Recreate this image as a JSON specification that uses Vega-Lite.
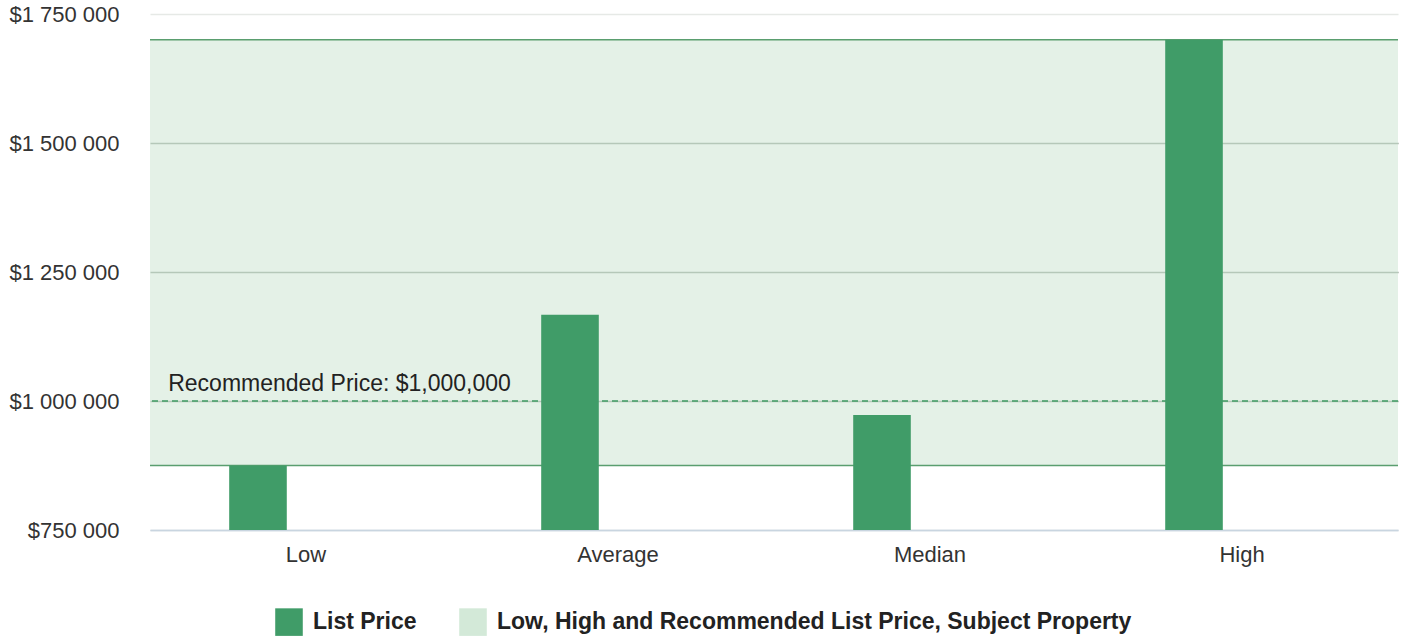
{
  "$schema": "https://vega.github.io/schema/vega-lite/v6.json",
  "width": 1248,
  "height": 516,
  "autosize": "none",
  "padding": {"left": 150, "top": 14, "right": 7, "bottom": 107},
  "background": "white",
  "config": {
    "locale": {"number": {"decimal": ".", "thousands": " ", "grouping": [3], "currency": ["$", ""]}},
    "font": "Liberation Sans",
    "view": {"stroke": null}
  },
  "datasets": {
    "prices": [
      {"category": "Low", "series": "List Price", "price": 875000},
      {"category": "Average", "series": "List Price", "price": 1167000},
      {"category": "Median", "series": "List Price", "price": 973000},
      {"category": "High", "series": "List Price", "price": 1700000}
    ],
    "band": [
      {"series": "Low, High and Recommended List Price, Subject Property", "low": 875000, "high": 1700000}
    ],
    "recommended": [
      {"price": 1000000, "label": "Recommended Price: $1,000,000", "category": "Low"}
    ]
  },
  "encoding": {
    "y": {
      "type": "quantitative",
      "scale": {"domain": [750000, 1750000], "zero": false, "nice": false},
      "axis": {
        "title": null,
        "format": "$,.0f",
        "values": [750000, 1000000, 1250000, 1500000, 1750000],
        "labelOverlap": false,
        "domain": false,
        "ticks": false,
        "labelFontSize": 22,
        "labelColor": "#333333",
        "labelPadding": 31,
        "grid": true,
        "gridColor": {"condition": [
          {"test": "datum.value === 750000", "value": "#c9d5e0"},
          {"test": "datum.value === 1750000", "value": "#e6e9e6"}
        ], "value": "#849486"},
        "gridWidth": 1.3
      }
    }
  },
  "layer": [
    {
      "data": {"name": "band"},
      "mark": {"type": "rect", "opacity": 0.62},
      "encoding": {
        "y": {"field": "low", "type": "quantitative"},
        "y2": {"field": "high"},
        "color": {
          "field": "series",
          "type": "nominal",
          "scale": {
            "domain": ["List Price", "Low, High and Recommended List Price, Subject Property"],
            "range": ["#409c68", "#d3e9d8"]
          },
          "legend": {
            "title": null,
            "orient": "none",
            "legendX": 125,
            "legendY": 594,
            "direction": "horizontal",
            "symbolType": "square",
            "symbolSize": 760,
            "symbolStrokeWidth": 0,
            "symbolOpacity": 1,
            "labelFontSize": 23,
            "labelFontWeight": "bold",
            "labelColor": "#222222",
            "labelOffset": 10,
            "labelLimit": 900,
            "columnPadding": 42
          }
        }
      }
    },
    {
      "data": {"name": "band"},
      "mark": {"type": "rule", "color": "#5a9e6f", "strokeWidth": 1.6},
      "encoding": {"y": {"field": "low", "type": "quantitative"}}
    },
    {
      "data": {"name": "band"},
      "mark": {"type": "rule", "color": "#5a9e6f", "strokeWidth": 1.6},
      "encoding": {"y": {"field": "high", "type": "quantitative"}}
    },
    {
      "data": {"name": "recommended"},
      "mark": {"type": "rule", "color": "#3f9b63", "strokeWidth": 1.6, "strokeDash": [6, 4]},
      "encoding": {"y": {"field": "price", "type": "quantitative"}}
    },
    {
      "data": {"name": "prices"},
      "mark": {"type": "bar"},
      "encoding": {
        "x": {
          "field": "category",
          "type": "nominal",
          "sort": ["Low", "Average", "Median", "High"],
          "scale": {"paddingInner": 0.5077, "paddingOuter": 0.2538},
          "axis": {
            "title": null,
            "labelAngle": 0,
            "ticks": false,
            "domain": true,
            "domainColor": "#c9d5e0",
            "domainWidth": 1.5,
            "labelFontSize": 22,
            "labelColor": "#333333",
            "labelPadding": 14
          }
        },
        "xOffset": {
          "field": "series",
          "type": "nominal",
          "scale": {
            "domain": ["List Price", "Low, High and Recommended List Price, Subject Property"],
            "paddingInner": 0.4,
            "paddingOuter": 0
          }
        },
        "y": {"field": "price", "type": "quantitative"},
        "y2": {"datum": 750000},
        "color": {"field": "series", "type": "nominal"}
      }
    },
    {
      "data": {"name": "recommended"},
      "mark": {"type": "text", "align": "left", "baseline": "bottom", "dx": -61, "dy": -5, "fontSize": 23, "color": "#222222"},
      "encoding": {
        "x": {"field": "category", "type": "nominal", "bandPosition": 0, "sort": ["Low", "Average", "Median", "High"]},
        "y": {"field": "price", "type": "quantitative"},
        "text": {"field": "label"}
      }
    }
  ]
}
